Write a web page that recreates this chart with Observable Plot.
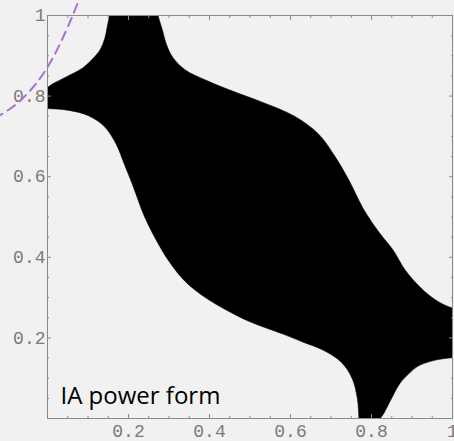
<!DOCTYPE html>
<html><head><meta charset="utf-8">
<script src="https://cdn.jsdelivr.net/npm/d3@7"></script>
<script src="https://cdn.jsdelivr.net/npm/@observablehq/plot@0.6"></script>
<style>
html,body{margin:0;padding:0;background:#f0f1f0;overflow:hidden}
#chart{position:relative;width:454px;height:441px}
.heading{position:absolute;font-family:"Open Sans",sans-serif;font-weight:700;font-size:30px;line-height:30px;color:#ee0000;z-index:2;white-space:nowrap}
</style></head><body><div id="chart">
<span class="heading" style="left:126px;top:-38px">g</span>
<span class="heading" style="left:228px;top:-35px">p</span>
</div>
<script>
// Boundary pieces of the black region, as (x, y) pairs; the end points run just past the frame
const topLeftCorner = [[-0.03,0.815],[0,0.822],[0.012,0.830],[0.045,0.847],[0.087,0.870],[0.112,0.893],[0.13,0.915],[0.142,0.945],[0.148,0.975],[0.153,1],[0.155,1.03]];
const upperRight = [[0.268,1.03],[0.273,1],[0.284,0.963],[0.293,0.93],[0.31,0.895],[0.34,0.865],[0.39,0.84],[0.45,0.815],[0.53,0.785],[0.61,0.75],[0.67,0.705],[0.71,0.65],[0.745,0.59],[0.78,0.52],[0.82,0.46],[0.854,0.417],[0.884,0.367],[0.928,0.318],[0.965,0.29],[1,0.274],[1.03,0.268]];
const bottomRightCorner = [[1.03,0.152],[1,0.151],[0.975,0.148],[0.946,0.142],[0.915,0.13],[0.893,0.112],[0.870,0.087],[0.847,0.045],[0.830,0.012],[0.822,0],[0.815,-0.03]];
const lowerLeft = [[0.77,-0.03],[0.769,0],[0.765,0.05],[0.752,0.1],[0.725,0.14],[0.68,0.17],[0.63,0.19],[0.58,0.21],[0.5,0.24],[0.44,0.27],[0.39,0.30],[0.34,0.34],[0.30,0.39],[0.27,0.44],[0.24,0.5],[0.21,0.58],[0.19,0.63],[0.17,0.68],[0.14,0.725],[0.1,0.752],[0.05,0.765],[0,0.769],[-0.03,0.77]];

// Dashed guide curve running off the top-left corner
const guideCurve = [[-0.13,0.745],[-0.067,0.789],[0.0025,0.876],[0.057,0.988],[0.08,1.045]];

// Frame ticks and labels
const majorTicks = [0.2,0.4,0.6,0.8,1];
const minorTicks = [0,0.05,0.1,0.15,0.25,0.3,0.35,0.45,0.5,0.55,0.65,0.7,0.75,0.85,0.9,0.95];
const tickLabels = ["0.2","0.4","0.6","0.8","1"];

const caption = "IA power form";

const region = [...topLeftCorner, ...upperRight, ...bottomRightCorner, ...lowerLeft].map(([x, y]) => ({x, y}));
const guide = guideCurve.map(([x, y]) => ({x, y}));
const fmt = d => tickLabels[majorTicks.indexOf(d)];

const tickColor = "#8a8a8a";
const frameTicks = [];
for (const anchor of ["top", "bottom"]) {
  frameTicks.push(Plot.axisX(minorTicks, {anchor, tickSize: -2, stroke: tickColor, fill: "none", label: null}));
  frameTicks.push(Plot.axisX(majorTicks, {anchor, tickSize: -4, stroke: tickColor, fill: "none", label: null}));
}
for (const anchor of ["left", "right"]) {
  frameTicks.push(Plot.axisY(minorTicks, {anchor, tickSize: -2, stroke: tickColor, fill: "none", label: null}));
  frameTicks.push(Plot.axisY(majorTicks, {anchor, tickSize: -4, stroke: tickColor, fill: "none", label: null}));
}

const chart = Plot.plot({
  width: 454, height: 441,
  marginLeft: 47, marginRight: 2, marginTop: 15, marginBottom: 23,
  x: {domain: [0, 1], label: null},
  y: {domain: [0, 1], label: null},
  style: {background: "transparent", overflow: "visible"},
  marks: [
    Plot.line(region, {x: "x", y: "y", curve: "catmull-rom-closed", fill: "black", stroke: "black", strokeWidth: 0.6, clip: true}),
    Plot.frame({stroke: tickColor}),
    ...frameTicks,
    Plot.axisX(majorTicks, {anchor: "bottom", tickSize: 0, tickPadding: 6, tickFormat: fmt, label: null, fontFamily: "Liberation Mono", fontSize: 18, fill: "#7a7a7a"}),
    Plot.axisY(majorTicks, {anchor: "left", tickSize: 0, tickPadding: 2, tickFormat: fmt, label: null, fontFamily: "Liberation Mono", fontSize: 18, fill: "#7a7a7a"}),
    Plot.line(guide, {x: "x", y: "y", curve: "natural", stroke: "#a86fd4", strokeWidth: 2, strokeDasharray: "9,6", clip: false}),
    Plot.text([caption], {frameAnchor: "bottom-left", text: d => d, dx: 13, dy: -15, textAnchor: "start", lineAnchor: "bottom", fontFamily: "Open Sans", fontSize: 24, fill: "black"})
  ]
});
document.getElementById("chart").append(chart);
</script></body></html>
